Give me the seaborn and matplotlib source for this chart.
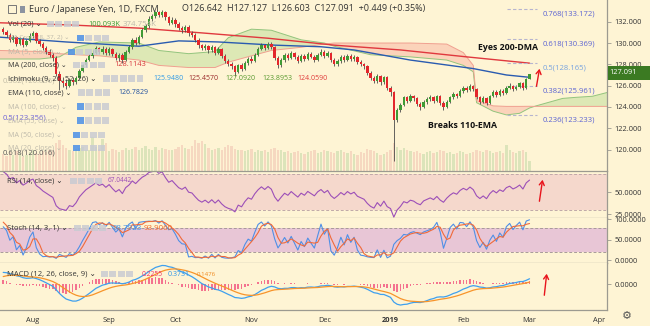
import numpy as np
import pandas as pd
import matplotlib
matplotlib.use('Agg')
import matplotlib.pyplot as plt
import seaborn as sns
from matplotlib.patches import Rectangle, FancyArrowPatch

# ------------------------------------------------------------------ data
warmup_close = [128.90, 130.00, 129.80, 130.30, 130.20, 130.30, 128.00, 128.40, 128.20, 127.90,
                127.70, 127.20, 128.00, 127.60, 127.00, 127.50, 127.60, 129.30, 128.80, 129.10,
                129.20, 129.40, 129.90, 130.40, 130.30, 129.90, 130.90, 131.30, 131.20, 131.30]

closes = [
    131.05, 130.80, 130.30, 130.55, 129.95, 130.40, 129.85, 130.20, 130.70, 130.95,
    130.20, 129.90, 129.50, 129.20, 128.90, 128.60, 127.10, 126.40, 126.20, 126.00,
    126.50, 126.30, 126.70, 127.40, 127.90, 128.40, 128.75, 129.10, 129.50, 129.20,
    129.40, 129.05, 129.45, 129.00, 128.60, 128.90, 128.40, 129.20, 129.60, 130.30,
    130.00, 130.60, 131.20, 131.60, 132.30, 132.50, 132.90, 132.60, 132.95, 132.40,
    131.90, 132.20, 131.80, 131.40, 131.20, 131.50, 130.90, 130.80, 130.30, 129.80,
    129.50, 129.70, 129.30, 129.60, 129.10, 129.40, 128.80, 128.30, 128.00, 127.80,
    127.30, 127.90, 127.60, 128.10, 128.50, 128.30, 128.90, 129.40, 129.80, 129.50,
    129.90, 129.60, 128.60, 127.90, 128.40, 128.90, 128.60, 129.10, 128.70, 128.30,
    128.80, 128.50, 129.00, 128.70, 128.40, 128.90, 129.20, 128.80, 129.10, 128.40,
    128.00, 128.30, 128.70, 128.40, 128.80, 128.50, 128.70, 128.20, 128.00, 127.80,
    127.20, 126.70, 126.40, 126.90, 126.30, 126.80, 125.80, 125.40, 122.80, 123.70,
    124.20, 124.90, 124.60, 125.00, 124.80, 124.30, 124.00, 124.50, 124.70, 124.90,
    124.60, 125.00, 124.40, 124.00, 124.50, 124.90, 125.20, 125.00, 125.50, 125.80,
    125.60, 126.00, 125.70, 124.90, 124.50, 124.80, 124.40, 125.00, 125.40, 125.10,
    125.50, 125.30, 125.80, 126.00, 125.70, 125.90, 126.20, 125.80, 126.642, 127.091]

highs = [
    131.55, 131.20, 130.95, 130.80, 130.70, 130.60, 130.55, 130.40, 130.90, 131.15,
    131.05, 130.35, 130.10, 129.70, 129.40, 129.05, 128.75, 127.40, 126.80, 126.60,
    126.75, 126.80, 126.95, 127.55, 128.05, 128.60, 129.00, 129.35, 129.75, 129.65,
    129.70, 129.60, 129.65, 129.55, 129.15, 129.10, 129.05, 129.35, 129.85, 130.45,
    130.55, 130.80, 131.40, 131.80, 132.50, 132.75, 133.05, 133.00, 133.13, 133.05,
    132.55, 132.40, 132.35, 131.95, 131.60, 131.70, 131.65, 131.10, 130.95, 130.45,
    129.95, 129.95, 129.85, 129.80, 129.75, 129.60, 129.50, 128.95, 128.50, 128.20,
    127.95, 128.05, 128.10, 128.30, 128.70, 128.75, 129.05, 129.60, 130.00, 129.95,
    130.10, 130.05, 129.70, 128.75, 128.60, 129.10, 129.05, 129.25, 129.20, 128.85,
    128.95, 128.95, 129.20, 129.15, 128.85, 129.05, 129.40, 129.35, 129.25, 129.20,
    128.55, 128.50, 128.85, 128.90, 128.95, 128.95, 128.90, 128.80, 128.40, 128.15,
    127.95, 127.35, 126.90, 127.05, 127.00, 126.95, 126.90, 126.00, 125.50, 123.90,
    124.40, 125.05, 125.05, 125.20, 125.15, 124.95, 124.50, 124.65, 124.90, 125.10,
    125.05, 125.15, 125.10, 124.55, 124.65, 125.05, 125.40, 125.35, 125.65, 126.00,
    125.95, 126.15, 126.10, 125.80, 125.00, 125.00, 124.90, 125.15, 125.55, 125.55,
    125.70, 125.65, 125.95, 126.20, 126.10, 126.05, 126.35, 126.30, 126.75, 127.127]

lows = [
    130.85, 130.55, 130.10, 130.05, 129.75, 129.80, 129.60, 129.70, 130.05, 130.45,
    130.00, 129.70, 129.30, 128.95, 128.70, 128.35, 126.90, 125.60, 125.90, 125.70,
    125.85, 126.05, 126.15, 126.60, 127.25, 127.75, 128.30, 128.60, 128.95, 128.95,
    129.00, 128.85, 128.90, 128.75, 128.40, 128.35, 128.15, 128.30, 129.05, 129.45,
    129.80, 129.90, 130.45, 131.05, 131.45, 132.10, 132.35, 132.40, 132.45, 132.20,
    131.65, 131.75, 131.55, 131.20, 130.95, 131.00, 130.70, 130.55, 130.10, 129.55,
    129.30, 129.35, 129.10, 129.15, 128.90, 128.95, 128.55, 128.10, 127.80, 127.55,
    126.95, 127.15, 127.40, 127.50, 127.95, 128.10, 128.20, 128.75, 129.30, 129.30,
    129.40, 129.40, 128.45, 127.70, 127.75, 128.25, 128.40, 128.50, 128.50, 128.10,
    128.20, 128.30, 128.40, 128.55, 128.20, 128.30, 128.75, 128.60, 128.65, 128.25,
    127.80, 127.85, 128.15, 128.25, 128.30, 128.35, 128.35, 128.05, 127.85, 127.60,
    127.00, 126.50, 126.20, 126.25, 126.10, 126.15, 125.60, 125.00, 118.90, 122.60,
    123.50, 124.05, 124.40, 124.45, 124.55, 124.10, 123.70, 123.90, 124.30, 124.55,
    124.40, 124.45, 124.20, 123.75, 123.90, 124.40, 124.75, 124.80, 124.90, 125.35,
    125.40, 125.50, 125.50, 124.70, 124.30, 124.35, 124.20, 124.30, 124.90, 124.95,
    125.00, 125.10, 125.20, 125.65, 125.50, 125.55, 125.75, 125.60, 125.70, 126.603]

volumes = [
    180, 160, 200, 170, 210, 190, 150, 170, 200, 220,
    190, 180, 210, 200, 230, 220, 300, 330, 280, 250,
    230, 210, 240, 250, 260, 220, 230, 370, 260, 240,
    350, 300, 210, 240, 220, 200, 230, 250, 220, 240,
    260, 230, 250, 270, 240, 220, 260, 230, 250, 240,
    230, 220, 240, 260, 280, 250, 240, 270, 330, 300,
    320, 290, 250, 230, 240, 250, 220, 260, 280, 270,
    240, 230, 220, 210, 230, 240, 200, 220, 210, 230,
    200, 240, 250, 230, 220, 200, 210, 190, 200, 210,
    190, 180, 200, 210, 220, 190, 200, 230, 210, 200,
    190, 210, 220, 200, 190, 210, 180, 170, 200, 190,
    240, 230, 210, 190, 170, 180, 200, 230, 300, 260,
    230, 250, 220, 210, 200, 210, 190, 180, 200, 210,
    190, 200, 220, 210, 190, 200, 180, 190, 210, 200,
    180, 190, 200, 220, 210, 200, 230, 210, 190, 200,
    210, 190, 280, 220, 200, 190, 210, 230, 200, 100]

# moving averages (bar index, value)
ma200_idx = [-1, 20, 41, 60, 80, 100, 120, 140, 159]
ma200_val = [131.9, 131.7, 131.4, 130.95, 130.45, 129.8, 129.35, 128.7, 128.11]
ema110_idx = [-1, 19, 41, 53, 65, 82, 96, 106, 123, 142, 152, 159]
ema110_val = [130.55, 130.1, 129.7, 130.2, 130.1, 129.8, 129.65, 129.35, 128.4, 127.6, 127.0, 126.78]

# ichimoku cloud (leading spans, bar index incl. 26-bar projection)
cloud_idx = [-1, 11, 17, 22, 29, 41, 47, 56, 64, 68, 75, 81, 90, 97, 100, 111, 123, 134,
             139, 142, 143, 148, 152, 156, 159, 161, 169, 173, 178, 183]
span_a = [128.5, 128.5, 128.7, 129.6, 130.1, 130.0, 129.3, 129.0, 129.2, 130.5, 131.3, 131.2,
          130.3, 130.0, 129.7, 128.9, 128.7, 128.4, 127.9, 127.3, 124.4, 123.6, 123.25, 123.4,
          123.9, 124.1, 124.8, 124.9, 125.0, 125.4]
span_b = [129.3, 129.2, 129.0, 128.9, 128.8, 128.4, 127.9, 127.7, 127.7, 128.2, 128.8, 129.3,
          129.6, 129.9, 130.0, 130.0, 130.0, 129.9, 129.1, 127.9, 124.6, 124.1, 124.05, 124.05,
          124.06, 124.05, 124.05, 124.05, 124.05, 124.05]

fib_right_lvl = [133.172, 130.369, 128.165, 125.961, 123.233]
fib_right_lbl = ['0.768(133.172)', '0.618(130.369)', '0.5(128.165)', '0.382(125.961)', '0.236(123.233)']
fib_left_lvl = [126.856, 123.356, 120.016]
fib_left_lbl = ['0.382(126.856)', '0.5(123.356)', '0.618(120.016)']

# ------------------------------------------------------------------ derived
n = len(closes)
x = np.arange(n)
close_s = pd.Series(warmup_close + closes)
high_s = pd.Series(warmup_close + highs)
low_s = pd.Series(warmup_close + lows)
nw = len(warmup_close)
opens = np.array([warmup_close[-1]] + closes[:-1])
c = np.array(closes)
up = c >= opens

delta = close_s.diff()
gain = delta.clip(lower=0).ewm(alpha=1/14, adjust=False).mean()
loss = (-delta.clip(upper=0)).ewm(alpha=1/14, adjust=False).mean()
rsi = (100 - 100 / (1 + gain / loss)).iloc[nw:].values
hh = high_s.rolling(14, min_periods=1).max()
ll = low_s.rolling(14, min_periods=1).min()
k_full = 100 * (close_s - ll) / (hh - ll)
d_full = k_full.rolling(3, min_periods=1).mean()
stk = k_full.iloc[nw:].values
std = d_full.iloc[nw:].values
ema12 = close_s.ewm(span=12, adjust=False).mean()
ema26 = close_s.ewm(span=26, adjust=False).mean()
macd_full = ema12 - ema26
sig_full = macd_full.ewm(span=9, adjust=False).mean()
macd = macd_full.iloc[nw:].values
sig = sig_full.iloc[nw:].values
hist = macd - sig

dates = pd.bdate_range('2018-07-19', '2019-04-30')
dates = dates[~dates.isin(pd.to_datetime(['2018-12-25', '2019-01-01']))]
month_pos, month_lbl = [], []
prev = None
for i, d in enumerate(dates):
    if prev is not None and d.month != prev.month:
        month_pos.append(i)
        month_lbl.append('2019' if d.month == 1 else d.strftime('%b'))
    prev = d

# ------------------------------------------------------------------ style
sns.set_theme(style='white')
plt.rcParams['font.family'] = ['Open Sans', 'DejaVu Sans']
W, H = 650, 326
BG = '#fef4d4'
SEP = '#9c9a90'
TXT = '#333333'
XLIM = (-0.97, 182.4)


def fy(py):
    return 1 - py / H


def fx(px):
    return px / W


fig = plt.figure(figsize=(6.5, 3.26), dpi=100)
fig.patch.set_facecolor(BG)
renderer = fig.canvas.get_renderer()


def fit_size(s, width, weight='normal'):
    t = fig.text(0, 0, s, fontsize=10, fontweight=weight)
    w = t.get_window_extent(renderer).width
    t.remove()
    return 10 * width / w


TICK = fit_size('132.000', 27.5)

ax_vol = fig.add_axes([0, fy(170.5), fx(607), 170.5 / H])
ax = fig.add_axes([0, fy(170.5), fx(607), 170.5 / H])
ax_rsi = fig.add_axes([0, fy(217.7), fx(607), (217.7 - 170.5) / H])
ax_sto = fig.add_axes([0, fy(263.3), fx(607), (263.3 - 217.7) / H])
ax_macd = fig.add_axes([0, fy(310.3), fx(607), (310.3 - 263.3) / H])

ax_vol.set_facecolor(BG)
ax_vol.set_xlim(XLIM)
ax_vol.set_ylim(0, 1870)
ax_vol.axis('off')
ax.set_zorder(2)

for a in (ax, ax_rsi, ax_sto, ax_macd):
    a.set_facecolor('none' if a is ax else BG)
    a.set_xlim(XLIM)
    a.spines['top'].set_visible(False)
    a.spines['left'].set_visible(False)
    a.spines['right'].set_color(SEP)
    a.spines['bottom'].set_color(SEP)
    a.spines['right'].set_linewidth(0.9)
    a.spines['bottom'].set_linewidth(0.9)
    a.yaxis.tick_right()
    a.tick_params(axis='y', labelsize=TICK, labelcolor=TXT, color=SEP, length=3, width=0.6, pad=2.5)
    a.grid(False)
    if a is not ax_macd:
        a.set_xticks([])

# ------------------------------------------------------------------ volume
vcol = np.where(up, '#a9cc94', '#eab0a4')
ax_vol.bar(x, volumes, width=0.7, color=vcol, alpha=0.4, linewidth=0)

# ------------------------------------------------------------------ cloud
ci = np.array(cloud_idx, dtype=float)
sa = np.array(span_a)
sb = np.array(span_b)
ax.fill_between(ci, sa, sb, where=sa >= sb, interpolate=True, color='#d3e4ab', alpha=0.75, lw=0)
ax.fill_between(ci, sa, sb, where=sa < sb, interpolate=True, color='#fbcbb4', alpha=0.8, lw=0)
sns.lineplot(x=ci, y=sa, ax=ax, color='#93c47d', linewidth=0.7, legend=False)
sns.lineplot(x=ci, y=sb, ax=ax, color='#f0a090', linewidth=0.7, legend=False)

# ------------------------------------------------------------------ MAs
sns.lineplot(x=ma200_idx, y=ma200_val, ax=ax, color='#e0383e', linewidth=1.0, legend=False)
sns.lineplot(x=ema110_idx, y=ema110_val, ax=ax, color='#2a5bb0', linewidth=1.0, legend=False)

# ------------------------------------------------------------------ candles
ccol = np.where(up, '#3f9a35', '#e3262c')
ax.vlines(x, lows, highs, color='#4a4a4a', linewidth=0.6, zorder=3)
ax.bar(x, np.maximum(np.abs(c - opens), 0.04), bottom=np.minimum(c, opens), width=0.72,
       color=ccol, linewidth=0, zorder=4)
ax.set_ylim(118.03, 134.04)
ax.set_yticks([120, 122, 124, 126, 128, 130, 132])
ax.set_yticklabels([f'{v:.3f}' for v in [120, 122, 124, 126, 128, 130, 132]])

# fib (right)
FIBS = fit_size('0.768(133.172)', 52)
for lvl, lbl in zip(fib_right_lvl, fib_right_lbl):
    ax.hlines(lvl, 152.2, 161.3, colors='#b6b4cf', linestyles=(0, (3, 2)), linewidth=0.8, zorder=3)
    col = '#77a3e0' if lbl.startswith('0.5') else '#5b63d3'
    ax.annotate(lbl, (163.1, lvl), xytext=(0, -5), textcoords='offset pixels',
                fontsize=FIBS, color=col, va='center', ha='left', zorder=6)
# fib (left)
for lvl, lbl, col in zip(fib_left_lvl, fib_left_lbl, ['#c2bca6', '#6e63d8', '#555555']):
    ax.annotate(lbl, (-0.3, lvl), xytext=(0, -4), textcoords='offset pixels',
                fontsize=FIBS, color=col, va='center', ha='left', zorder=6)

# ------------------------------------------------------------------ RSI
ax_rsi.axhspan(30, 70, color='#f5d8cc', lw=0)
for lv in (30, 70):
    ax_rsi.axhline(lv, color='#c0a8a8', lw=0.7, ls=(0, (3, 2)))
sns.lineplot(x=x, y=rsi, ax=ax_rsi, color='#9c4fb8', linewidth=0.8, legend=False)
ax_rsi.set_ylim(21.2, 74.1)
ax_rsi.set_yticks([25, 50])
ax_rsi.set_yticklabels(['25.0000', '50.0000'])

# ------------------------------------------------------------------ Stoch
ax_sto.axhspan(20, 80, color='#e8c6d6', lw=0)
for lv in (20, 80):
    ax_sto.axhline(lv, color='#a89a9a', lw=0.7, ls=(0, (3, 2)))
sns.lineplot(x=x, y=stk, ax=ax_sto, color='#4f8fe6', linewidth=0.8, legend=False)
sns.lineplot(x=x, y=std, ax=ax_sto, color='#f06a3a', linewidth=0.8, legend=False)
ax_sto.set_ylim(-7.3, 103.9)
ax_sto.set_yticks([0, 50, 100])
ax_sto.set_yticklabels(['0.0000', '50.0000', '100.0000'])

# ------------------------------------------------------------------ MACD
ax_macd.bar(x, hist, width=0.45, color='#f2517e', alpha=0.8, linewidth=0)
sns.lineplot(x=x, y=macd, ax=ax_macd, color='#3fa0ee', linewidth=0.9, legend=False)
sns.lineplot(x=x, y=sig, ax=ax_macd, color='#f7942a', linewidth=0.9, legend=False)
ax_macd.set_ylim(-1.47, 1.19)
ax_macd.set_yticks([0])
ax_macd.set_yticklabels(['0.0000'])
ax_macd.set_xticks(month_pos)
ax_macd.set_xticklabels(month_lbl)
ax_macd.tick_params(axis='x', labelsize=TICK, labelcolor=TXT, color=SEP, length=3, width=0.6, pad=2)
for t in ax_macd.get_xticklabels():
    if t.get_text() == '2019':
        t.set_fontweight('bold')


# ------------------------------------------------------------------ texts / legend
def ftext(px0, px1, py, s, color=TXT, weight='normal', ha='left'):
    size = fit_size(s, px1 - px0, weight)
    xx = px0 if ha == 'left' else (px0 + px1) / 2
    fig.text(fx(xx), fy(py), s, color=color, fontsize=size, fontweight=weight,
             ha=ha, va='center', zorder=20)


def icons(px, py, nbox, eye=True):
    for j in range(nbox):
        colr = '#4a8fe8' if (eye and j == 0) else '#c9cbd2'
        fig.patches.append(Rectangle((fx(px + j * 8.4), fy(py + 3.3)), fx(6.8), 6.8 / H,
                                     transform=fig.transFigure, facecolor=colr,
                                     edgecolor='none', alpha=0.85, zorder=19))


FADE = '#bdb9aa'
fig.patches.append(Rectangle((fx(8), fy(13)), fx(8), 8 / H, transform=fig.transFigure,
                             facecolor='none', edgecolor='#777777', lw=0.7, zorder=19))
fig.patches.append(Rectangle((fx(10), fy(9.3)), fx(4), 0.7 / H, transform=fig.transFigure,
                             facecolor='#555555', edgecolor='none', zorder=19))
fig.patches.append(Rectangle((fx(20), fy(12.5)), fx(5), 7 / H, transform=fig.transFigure,
                             facecolor='#8c93a0', edgecolor='none', zorder=19))
ftext(29, 159, 9, 'Euro / Japanese Yen, 1D, FXCM')
ftext(182, 424, 9, 'O126.642  H127.127  L126.603  C127.091  +0.449 (+0.35%)')

ftext(8, 42, 24, 'Vol (20) ⌄')
icons(47, 24, 4, eye=False)
ftext(88, 120, 24, '100.093K', color='#3c9a35')
ftext(123, 157, 24, '374.754K', color=FADE)
ftext(8, 70, 38, 'MA Cross (8, 37, 2) ⌄', color=FADE)
icons(77, 38, 4)
ftext(8, 62, 52, 'MA (5, close) ⌄', color=FADE)
icons(68, 52, 4)
ftext(8, 67, 65, 'MA (200, close) ⌄')
icons(73, 65, 4, eye=False)
ftext(114, 146, 65, '128.1143', color='#d7373d')
ftext(8, 97, 79, 'Ichimoku (9, 26, 52, 26) ⌄')
icons(103, 79, 5, eye=False)
ftext(153, 183, 79, '125.9480', color='#2f9ae6')
ftext(188, 218, 79, '125.4570', color='#9b2a2a')
ftext(225, 255, 79, '127.0920', color='#5a9a30')
ftext(262, 292, 79, '123.8953', color='#5a9a30')
ftext(297, 327, 79, '124.0590', color='#e03a3a')
ftext(8, 72, 93, 'EMA (110, close) ⌄')
icons(78, 93, 4, eye=False)
ftext(118, 148, 93, '126.7829', color='#1f4f9f')
for py, s, x1, ex in [(107, 'MA (100, close) ⌄', 67, 77), (121, 'EMA (55, close) ⌄', 65, 77),
                      (135, 'MA (50, close) ⌄', 62, 73), (148, 'MA (20, close) ⌄', 62, 73)]:
    ftext(8, x1, py, s, color=FADE)
    icons(ex, py, 4)

ftext(7, 63, 181, 'RSI (14, close) ⌄')
icons(70, 181, 4, eye=False)
ftext(108, 132, 181, '67.0442', color='#9c4fb8')
ftext(7, 67, 228, 'Stoch (14, 3, 1) ⌄')
icons(74, 228, 4, eye=False)
ftext(113, 142, 228, '98.7923', color='#3f8fe6')
ftext(144, 173, 228, '93.9060', color='#f06a2a')
ftext(7, 95, 274, 'MACD (12, 26, close, 9) ⌄')
icons(101, 274, 4, eye=False)
ftext(142, 163, 274, '0.2255', color='#f0306a')
ftext(168, 190, 274, '0.3731', color='#2f95e8')
ftext(197, 216, 274, '0.1476', color='#f08a20')

ftext(478, 538, 48, 'Eyes 200-DMA', color='#111111', weight='bold')
ftext(428, 497, 126, 'Breaks 110-EMA', color='#111111', weight='bold')

for (x0, y0, x1, y1) in [(536, 89, 540, 66), (539, 204, 543, 177), (544, 298, 547, 271)]:
    fig.add_artist(FancyArrowPatch(
        (fx(x0), fy(y0)), (fx(x1), fy(y1)), transform=fig.transFigure,
        arrowstyle='->,head_length=3,head_width=1.8', color='#e8141c', lw=1.0, zorder=20))

fig.patches.append(Rectangle((fx(607.5), fy(80)), fx(42.5), 14 / H, transform=fig.transFigure,
                             facecolor='#3b7a22', edgecolor='none', zorder=20))
fig.text(fx(623), fy(73), '127.091', color='white', fontsize=TICK, ha='center', va='center',
         zorder=21)
fig.text(fx(627), fy(316), '⚙', color='#555555', fontsize=8, ha='center', va='center',
         family='DejaVu Sans')

fig.savefig('out.png', dpi=100, facecolor=BG)
